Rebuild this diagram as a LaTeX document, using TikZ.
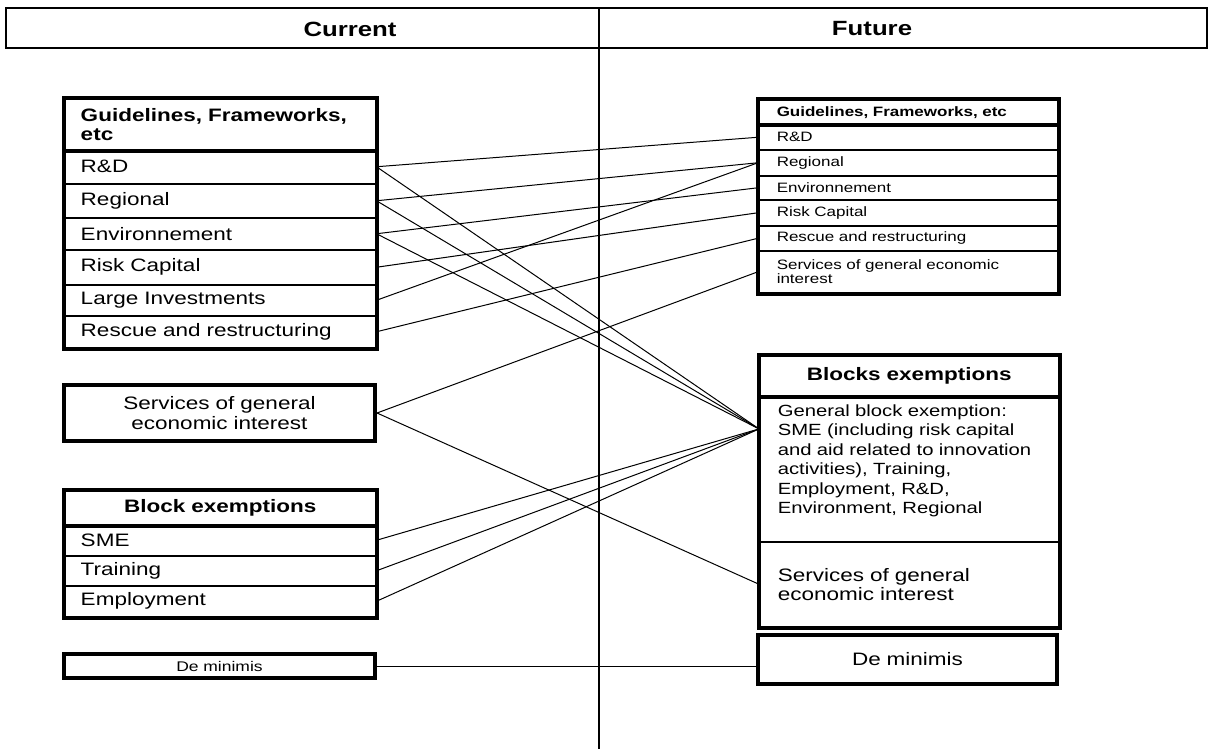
\documentclass[tikz,border=0pt]{standalone}
\usepackage{fontspec}
\setmainfont[FakeStretch=1.25]{Liberation Sans}
\usetikzlibrary{matrix,calc,positioning}
\newcommand{\txtHead}{\fontsize{10.3}{12}\selectfont\bfseries}
\newcommand{\txtLeft}{\fontsize{9}{9.6}\selectfont}
\newcommand{\txtRight}{\fontsize{6.8}{7}\selectfont}
\newcommand{\txtGen}{\fontsize{8.1}{9.7}\selectfont}
\newcommand{\txtTiny}{\fontsize{7}{8}\selectfont}
\tikzset{
  lrow/.style={draw, line width=0.75pt, text width=139.5pt, inner xsep=8pt, inner ysep=0pt, align=left, anchor=center, font=\txtLeft},
  lhead/.style={lrow, font=\txtLeft\bfseries},
  rrow/.style={draw, line width=0.75pt, text width=131.5pt, inner xsep=9pt, inner ysep=0pt, align=left, anchor=center, font=\txtRight},
  rhead/.style={rrow, font=\txtRight\bfseries},
  stack/.style={matrix of nodes, draw, line width=2pt, inner sep=0pt, row sep=-0.75pt, anchor=north west},
  solo/.style={draw, line width=2pt, inner ysep=0pt, align=center, anchor=north west},
  hcell/.style={draw, line width=0.75pt, minimum height=20pt, inner sep=0pt, outer sep=0pt, anchor=north west},
  rule/.style={line width=2pt},
  divider/.style={line width=0.75pt},
  link/.style={line width=0.5pt}
}
\begin{document}
\begin{tikzpicture}[x=0.5pt, y=0.5pt]
  \useasboundingbox (0,0) rectangle (1209,-749);
  % header row
  \node[hcell, minimum width=296.5pt] (hdl) at (6,-8) {};
  \node[hcell, minimum width=304pt, right=0pt of hdl] (hdr) {};
  \node[font=\txtHead] (cur) at (350,-29) {Current};
  \node[font=\txtHead] (fut) at (872,-29) {Future};
  \coordinate (bot) at (599,-749);
  \draw[divider] (hdl.south east) -- (hdl.south east |- bot);

  % current side
  \matrix[stack] (gl) at (62,-96) {
    |[lhead, minimum height=25.5pt] (hdL)| Guidelines, Frameworks, etc \\
    |[lrow, minimum height=17pt] (rdL)| R\&D \\
    |[lrow, minimum height=17pt] (regL)| Regional \\
    |[lrow, minimum height=16pt] (envL)| Environnement \\
    |[lrow, minimum height=17.5pt] (riskL)| Risk Capital \\
    |[lrow, minimum height=15.5pt] (largeL)| Large Investments \\
    |[lrow, minimum height=16pt] (rescL)| Rescue and restructuring \\
  };
  \draw[rule] (hdL.south west) -- (hdL.south east);

  \node[solo, text width=139.5pt, inner xsep=8pt, minimum height=28pt, font=\txtLeft] (sgL) at (62,-383) {Services of general\\economic interest};

  \matrix[stack] (lb) at (62,-488) {
    |[lhead, align=center, minimum height=17pt] (bxL)| Block exemptions \\
    |[lrow, minimum height=15.5pt] (smeL)| SME \\
    |[lrow, minimum height=15pt] (trL)| Training \\
    |[lrow, minimum height=15.5pt] (empL)| Employment \\
  };
  \draw[rule] (bxL.south west) -- (bxL.south east);

  \node[solo, text width=139.5pt, inner xsep=8pt, minimum height=12pt, font=\txtTiny] (dmL) at (62,-652) {De minimis};

  % future side
  \matrix[stack] (rg) at (756,-97) {
    |[rhead, minimum height=12.5pt] (hdR)| Guidelines, Frameworks, etc \\
    |[rrow, minimum height=12.5pt] (rdR)| R\&D \\
    |[rrow, minimum height=13pt] (regR)| Regional \\
    |[rrow, minimum height=12pt] (envR)| Environnement \\
    |[rrow, minimum height=13pt] (riskR)| Risk Capital \\
    |[rrow, minimum height=12.5pt] (rescR)| Rescue and restructuring \\
    |[rrow, minimum height=21pt] (sgR)| Services of general economic\newline interest \\
  };
  \draw[rule] (hdR.south west) -- (hdR.south east);

  \matrix[stack] (rb) at (757,-353) {
    |[rrow, font=\txtLeft\bfseries, align=center, minimum height=20pt] (bxR)| Blocks exemptions \\
    |[rrow, font=\txtGen, minimum height=73pt] (genR)| General block exemption:\newline SME (including risk capital\newline and aid related to innovation\newline activities), Training,\newline Employment, R\&D,\newline Environment, Regional\newline\mbox{} \\
    |[rrow, font=\txtLeft, minimum height=42.5pt] (sgbR)| Services of general\newline economic interest \\
  };
  \draw[rule] (bxR.south west) -- (bxR.south east);
  \coordinate (gbin) at ($(genR.north west)!0.23!(genR.south west)$);

  \node[solo, text width=131.5pt, inner xsep=9pt, minimum height=24.5pt, font=\txtLeft] (dmR) at (756,-633) {De minimis};

  % links
  \path[link] (rdL.east) edge (rdR.west);
  \path[link] (rdL.east) edge (gbin);
  \path[link] (regL.east) edge (regR.west);
  \path[link] (regL.east) edge (gbin);
  \path[link] (envL.east) edge (envR.west);
  \path[link] (envL.east) edge (gbin);
  \path[link] (riskL.east) edge (riskR.west);
  \path[link] (largeL.east) edge (regR.west);
  \path[link] (rescL.east) edge (rescR.west);
  \path[link] (sgL.east) edge (sgR.west);
  \path[link] (sgL.east) edge (sgbR.west);
  \path[link] (smeL.east) edge (gbin);
  \path[link] (trL.east) edge (gbin);
  \path[link] (empL.east) edge (gbin);
  \path[link] (dmL.east) edge (dmL.east -| dmR.west);
\end{tikzpicture}
\end{document}
